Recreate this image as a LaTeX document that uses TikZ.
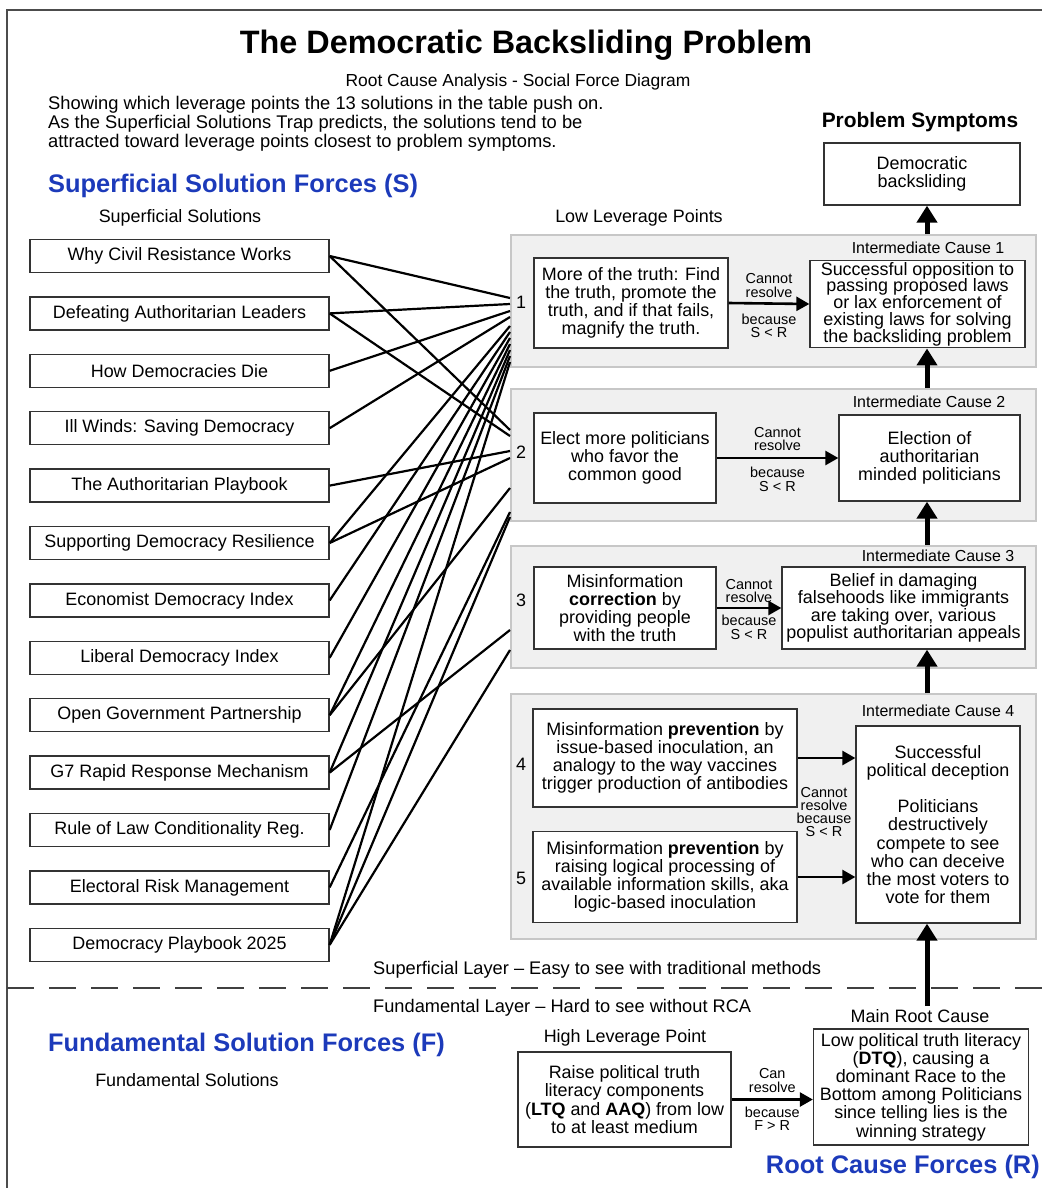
\documentclass[tikz,border=0pt]{standalone}
\usepackage{fontspec}
\setmainfont{Liberation Sans}
\usetikzlibrary{arrows.meta}
\begin{document}
\begin{tikzpicture}[x=1bp, y=-1bp,
    txt/.style={inner sep=0, font=\fontsize{18}{18.5}\selectfont},
    lbl/.style={inner sep=0, align=center, font=\fontsize{14.5}{13.5}\selectfont},
    box/.style={draw=black!80, line width=1.3bp, fill=white, align=center, inner sep=2bp, font=\fontsize{18}{18.3}\selectfont},
    sol/.style={box, minimum width=299bp, minimum height=33bp},
    panel/.style={draw=black!22, line width=1.5bp, fill=black!6, inner sep=0, anchor=north west, minimum width=525bp},
    link/.style={line width=2.2bp, black},
    push/.style={line width=2.6bp, -{Triangle[length=13bp,width=14bp]}},
    rise/.style={line width=5bp, -{Triangle[length=17bp,width=20bp]}},
    force/.style={inner sep=0, text=forceblue, font=\bfseries\fontsize{25.5}{26}\selectfont}]
    \def\rowgap{57.4}
    \definecolor{forceblue}{RGB}{28,58,186}
    \useasboundingbox (0,0) rectangle (1042,1188);
    \draw[line width=1.5bp, black!70] (1042,10) -- (7,10) -- (7,1188);
    \coordinate (spine) at (927,0);
    \node[inner sep=0, font=\bfseries\fontsize{32.5}{34}\selectfont] (title) at (526,45) {The Democratic Backsliding Problem};
    \node[txt, font=\fontsize{17.5}{18}\selectfont] (subtitle) at (518,82) {Root Cause Analysis - Social Force Diagram};
    \node[txt, align=left, anchor=west, font=\fontsize{18.4}{19}\selectfont] (intro) at (48,124) {Showing which leverage points the 13 solutions in the table push on.\\As the Superficial Solutions Trap predicts, the solutions tend to be\\attracted toward leverage points closest to problem symptoms.};
    \node[force, anchor=west] (sforce) at (48,186) {Superficial Solution Forces (S)};
    \node[txt, font=\bfseries\fontsize{21}{22}\selectfont] (symhead) at (920,122) {Problem Symptoms};
    \node[box, minimum width=196bp, minimum height=62bp] (symp) at (922,174) {Democratic\\backsliding};
    \node[txt] (solhead) at (180,218) {Superficial Solutions};
    \node[txt] (lowhead) at (639,218) {Low Leverage Points};
    \node[panel, minimum height=132bp] (pan1) at (510,234) {};
    \node[panel, minimum height=132bp] (pan2) at (510,388) {};
    \node[panel, minimum height=122bp] (pan3) at (510,545) {};
    \node[panel, minimum height=245bp] (pan4) at (510,693) {};
    \foreach \n [count=\i] in {Why Civil Resistance Works, Defeating Authoritarian Leaders, How Democracies Die, Ill Winds: Saving Democracy, The Authoritarian Playbook, Supporting Democracy Resilience, Economist Democracy Index, Liberal Democracy Index, Open Government Partnership, G7 Rapid Response Mechanism, Rule of Law Conditionality Reg., Electoral Risk Management, Democracy Playbook 2025}
        \node[sol] (s\i) at (179.5,{256+(\i-1)*\rowgap}) {\n};
    \foreach \s/\t/\y in {1/1/298, 1/2/430, 2/1/304, 2/2/436, 3/1/311, 4/1/317, 5/2/451, 6/1/326, 6/2/458, 7/1/332, 8/1/338, 9/1/344, 9/2/488, 10/1/350, 10/3/630, 11/1/356, 12/2/512, 13/1/362, 13/2/517, 13/3/650}
        \draw[link] (s\s.east) -- (pan\t.west |- 0,\y);
    \node[txt] (n1) at (521,302) {1};
    \node[txt] (n2) at (521,452) {2};
    \node[txt] (n3) at (521,600) {3};
    \node[txt] (n4) at (521,764) {4};
    \node[txt] (n5) at (521,878) {5};
    \node[txt, font=\fontsize{16}{17}\selectfont] (c1) at (928,248) {Intermediate Cause 1};
    \node[txt, font=\fontsize{16}{17}\selectfont] (c2) at (929,402) {Intermediate Cause 2};
    \node[txt, font=\fontsize{16}{17}\selectfont] (c3) at (938,556) {Intermediate Cause 3};
    \node[txt, font=\fontsize{16}{17}\selectfont] (c4) at (938,711) {Intermediate Cause 4};
    \node[box, minimum width=194bp, minimum height=90bp] (lp1) at (631,303) {More of the truth: Find\\the truth, promote the\\truth, and if that fails,\\magnify the truth.};
    \node[box, minimum width=215bp, minimum height=87bp, font=\fontsize{18}{16.8}\selectfont] (ic1) at (917.5,304) {Successful opposition to\\passing proposed laws\\or lax enforcement of\\existing laws for solving\\the backsliding problem};
    \node[box, minimum width=182bp, minimum height=90bp] (lp2) at (625,458) {Elect more politicians\\who favor the\\common good};
    \node[box, minimum width=181bp, minimum height=86bp] (ic2) at (929.5,458) {Election of\\authoritarian\\minded politicians};
    \node[box, minimum width=182bp, minimum height=82bp] (lp3) at (625,608) {Misinformation\\\textbf{correction} by\\providing people\\with the truth};
    \node[box, minimum width=243bp, minimum height=82bp, font=\fontsize{18}{17.5}\selectfont] (ic3) at (903.5,608) {Belief in damaging\\falsehoods like immigrants\\are taking over, various\\populist authoritarian appeals};
    \node[box, minimum width=264bp, minimum height=98bp] (lp4) at (665,758) {Misinformation \textbf{prevention} by\\issue-based inoculation, an\\analogy to the way vaccines\\trigger production of antibodies};
    \node[box, minimum width=264bp, minimum height=91bp] (lp5) at (665,877) {Misinformation \textbf{prevention} by\\raising logical processing of\\available information skills, aka\\logic-based inoculation};
    \node[box, minimum width=164bp, minimum height=197bp] (ic4) at (938,824.5) {Successful\\political deception\\[18bp]Politicians\\destructively\\compete to see\\who can deceive\\the most voters to\\vote for them};
    \draw[push] (lp1.east) -- (ic1.west) node[midway, above=5bp, lbl] {Cannot\\resolve} node[midway, below=9bp, lbl] {because\\S < R};
    \draw[push] (lp2.east) -- (ic2.west) node[midway, above=6bp, lbl] {Cannot\\resolve} node[midway, below=8bp, lbl] {because\\S < R};
    \draw[push] (lp3.east) -- (ic3.west) node[midway, above=4bp, lbl] {Cannot\\resolve} node[midway, below=6bp, lbl] {because\\S < R};
    \draw[push] (lp4.east) -- (lp4.east -| ic4.west);
    \draw[push] (lp5.east) -- (lp5.east -| ic4.west);
    \node[lbl, font=\fontsize{14.5}{13}\selectfont] (why4) at (824,812) {Cannot\\resolve\\because\\S < R};
    \draw[rise] (pan1.north -| spine) -- (symp.south -| spine);
    \draw[rise] (pan2.north -| spine) -- (ic1.south -| spine);
    \draw[rise] (pan3.north -| spine) -- (ic2.south -| spine);
    \draw[rise] (pan4.north -| spine) -- (ic3.south -| spine);
    \node[txt, font=\fontsize{18.3}{19}\selectfont, anchor=west] (suplayer) at (373,970) {Superficial Layer – Easy to see with traditional methods};
    \draw[line width=1.8bp, black!75, dash pattern=on 27bp off 15bp] (7,988) -- (1042,988);
    \node[txt, font=\fontsize{18.3}{19}\selectfont, anchor=west] (funlayer) at (373,1008) {Fundamental Layer – Hard to see without RCA};
    \node[force, anchor=west] (fforce) at (48,1045) {Fundamental Solution Forces (F)};
    \node[txt] (funhead) at (187,1080) {Fundamental Solutions};
    \node[txt] (highhead) at (625,1038) {High Leverage Point};
    \node[txt] (roothead) at (920,1016) {Main Root Cause};
    \node[box, minimum width=213bp, minimum height=95bp] (hlp) at (624.5,1099.5) {Raise political truth\\literacy components\\(\textbf{LTQ} and \textbf{AAQ}) from low\\to at least medium};
    \node[box, minimum width=215bp, minimum height=116bp] (root) at (921,1087) {Low political truth literacy\\(\textbf{DTQ}), causing a\\dominant Race to the\\Bottom among Politicians\\since telling lies is the\\winning strategy};
    \draw[push] (hlp.east) -- (hlp.east -| root.west) node[midway, above=6bp, lbl] {Can\\resolve} node[midway, below=6bp, lbl] {because\\F > R};
    \draw[rise] ([yshift=3bp]roothead.north -| spine) -- (ic4.south -| spine);
    \node[force, anchor=east] (rforce) at (1040,1167) {Root Cause Forces (R)};
\end{tikzpicture}
\end{document}
